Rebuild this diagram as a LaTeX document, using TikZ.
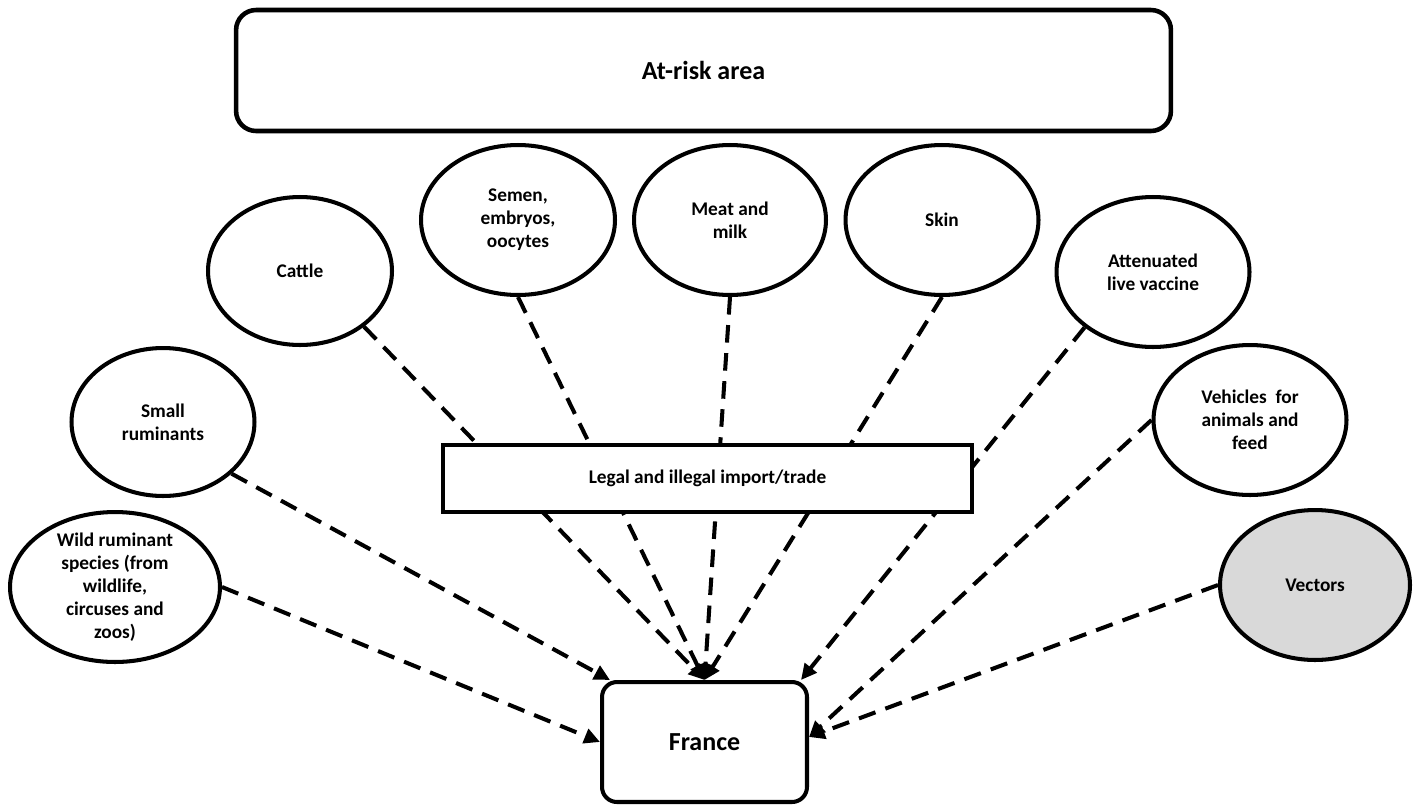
\documentclass[tikz,border=0pt]{standalone}
\usepackage{fontspec}
\setmainfont{Carlito}
\usetikzlibrary{shapes.geometric,arrows.meta,calc,backgrounds}
\begin{document}
\begin{tikzpicture}[x=0.02cm,y=-0.02cm,
  ell/.style={ellipse,draw,line width=2.3pt,fill=white,inner sep=0pt,
              minimum width=3.86cm,minimum height=3.0cm},
  txt/.style={align=center,inner sep=0pt,font=\bfseries\fontsize{11}{13}\selectfont},
  bigtxt/.style={inner sep=0pt,font=\bfseries\fontsize{14.8}{17}\selectfont},
  con/.style={line width=2.3pt,dash pattern=on 10pt off 6pt,
              -{Triangle[length=9pt,width=8.5pt]}}]
\useasboundingbox (0,0) rectangle (1416,805);

% boxes
\node[draw,line width=2.6pt,rounded corners=0.4cm,fill=white,
      minimum width=18.7cm,minimum height=2.42cm] (risk) at (703.5,70.5) {};
\node[bigtxt] (riskT) at (risk) {At-risk area};

\node[draw,line width=2.3pt,fill=white,minimum width=10.58cm,minimum height=1.34cm] (legal) at (707.5,478.5) {};
\node[txt] (legalT) at (legal) {Legal and illegal import/trade};

\node[draw,line width=2.3pt,rounded corners=0.3cm,
      minimum width=4.1cm,minimum height=2.4cm] (france) at (704.5,742) {};
\node[bigtxt] (franceT) at (france) {France};

% ellipses
\node[ell,minimum width=3.68cm,minimum height=2.96cm] (cattle) at (300,271) {};
\node[txt] (cattleT) at (cattle) {Cattle};
\node[ell,minimum width=3.88cm] (semen) at (518,220) {};
\node[txt] (semenT) at (semen) {Semen,\\embryos,\\oocytes};
\node[ell,minimum width=3.84cm] (meat) at (730,220) {};
\node[txt] (meatT) at (meat) {Meat and\\milk};
\node[ell] (skin) at (942,220) {};
\node[txt] (skinT) at (skin) {Skin};
\node[ell] (att) at (1153,272) {};
\node[txt] (attT) at (att) {Attenuated\\live vaccine};
\node[ell,minimum width=3.66cm,minimum height=2.96cm] (small) at (163,422) {};
\node[txt] (smallT) at (small) {Small\\ruminants};
\node[ell] (veh) at (1250,420) {};
\node[txt] (vehT) at (veh) {Vehicles~ for\\animals and\\feed};
\node[ell,minimum width=4.2cm] (wild) at (115,587) {};
\node[txt] (wildT) at (wild) {Wild ruminant\\species (from\\wildlife,\\circuses and\\zoos)};
\node[ell,minimum width=3.8cm,fill={rgb,255:red,217;green,217;blue,217}] (vec) at (1315,585) {};
\node[txt] (vecT) at (vec) {Vectors};

% connectors
\begin{pgfonlayer}{background}
\draw[con] (cattle.319) -- (france.north);
\draw[con] (semen.south) -- (france.north);
\draw[con] (meat.south) -- (france.north);
\draw[con] (skin.south) -- (france.north);
\draw[con] (att.219) -- ($(france.north east)+(-8,0)$);
\draw[con] (small.323) -- ($(france.north west)+(10,0)$);
\draw[con] (wild.east) -- (france.west);
\draw[con] (veh.west) -- ($(france.east)+(0,-5)$);
\draw[con] (vec.west) -- ($(france.east)+(0,-5)$);
\end{pgfonlayer}
\end{tikzpicture}
\end{document}
